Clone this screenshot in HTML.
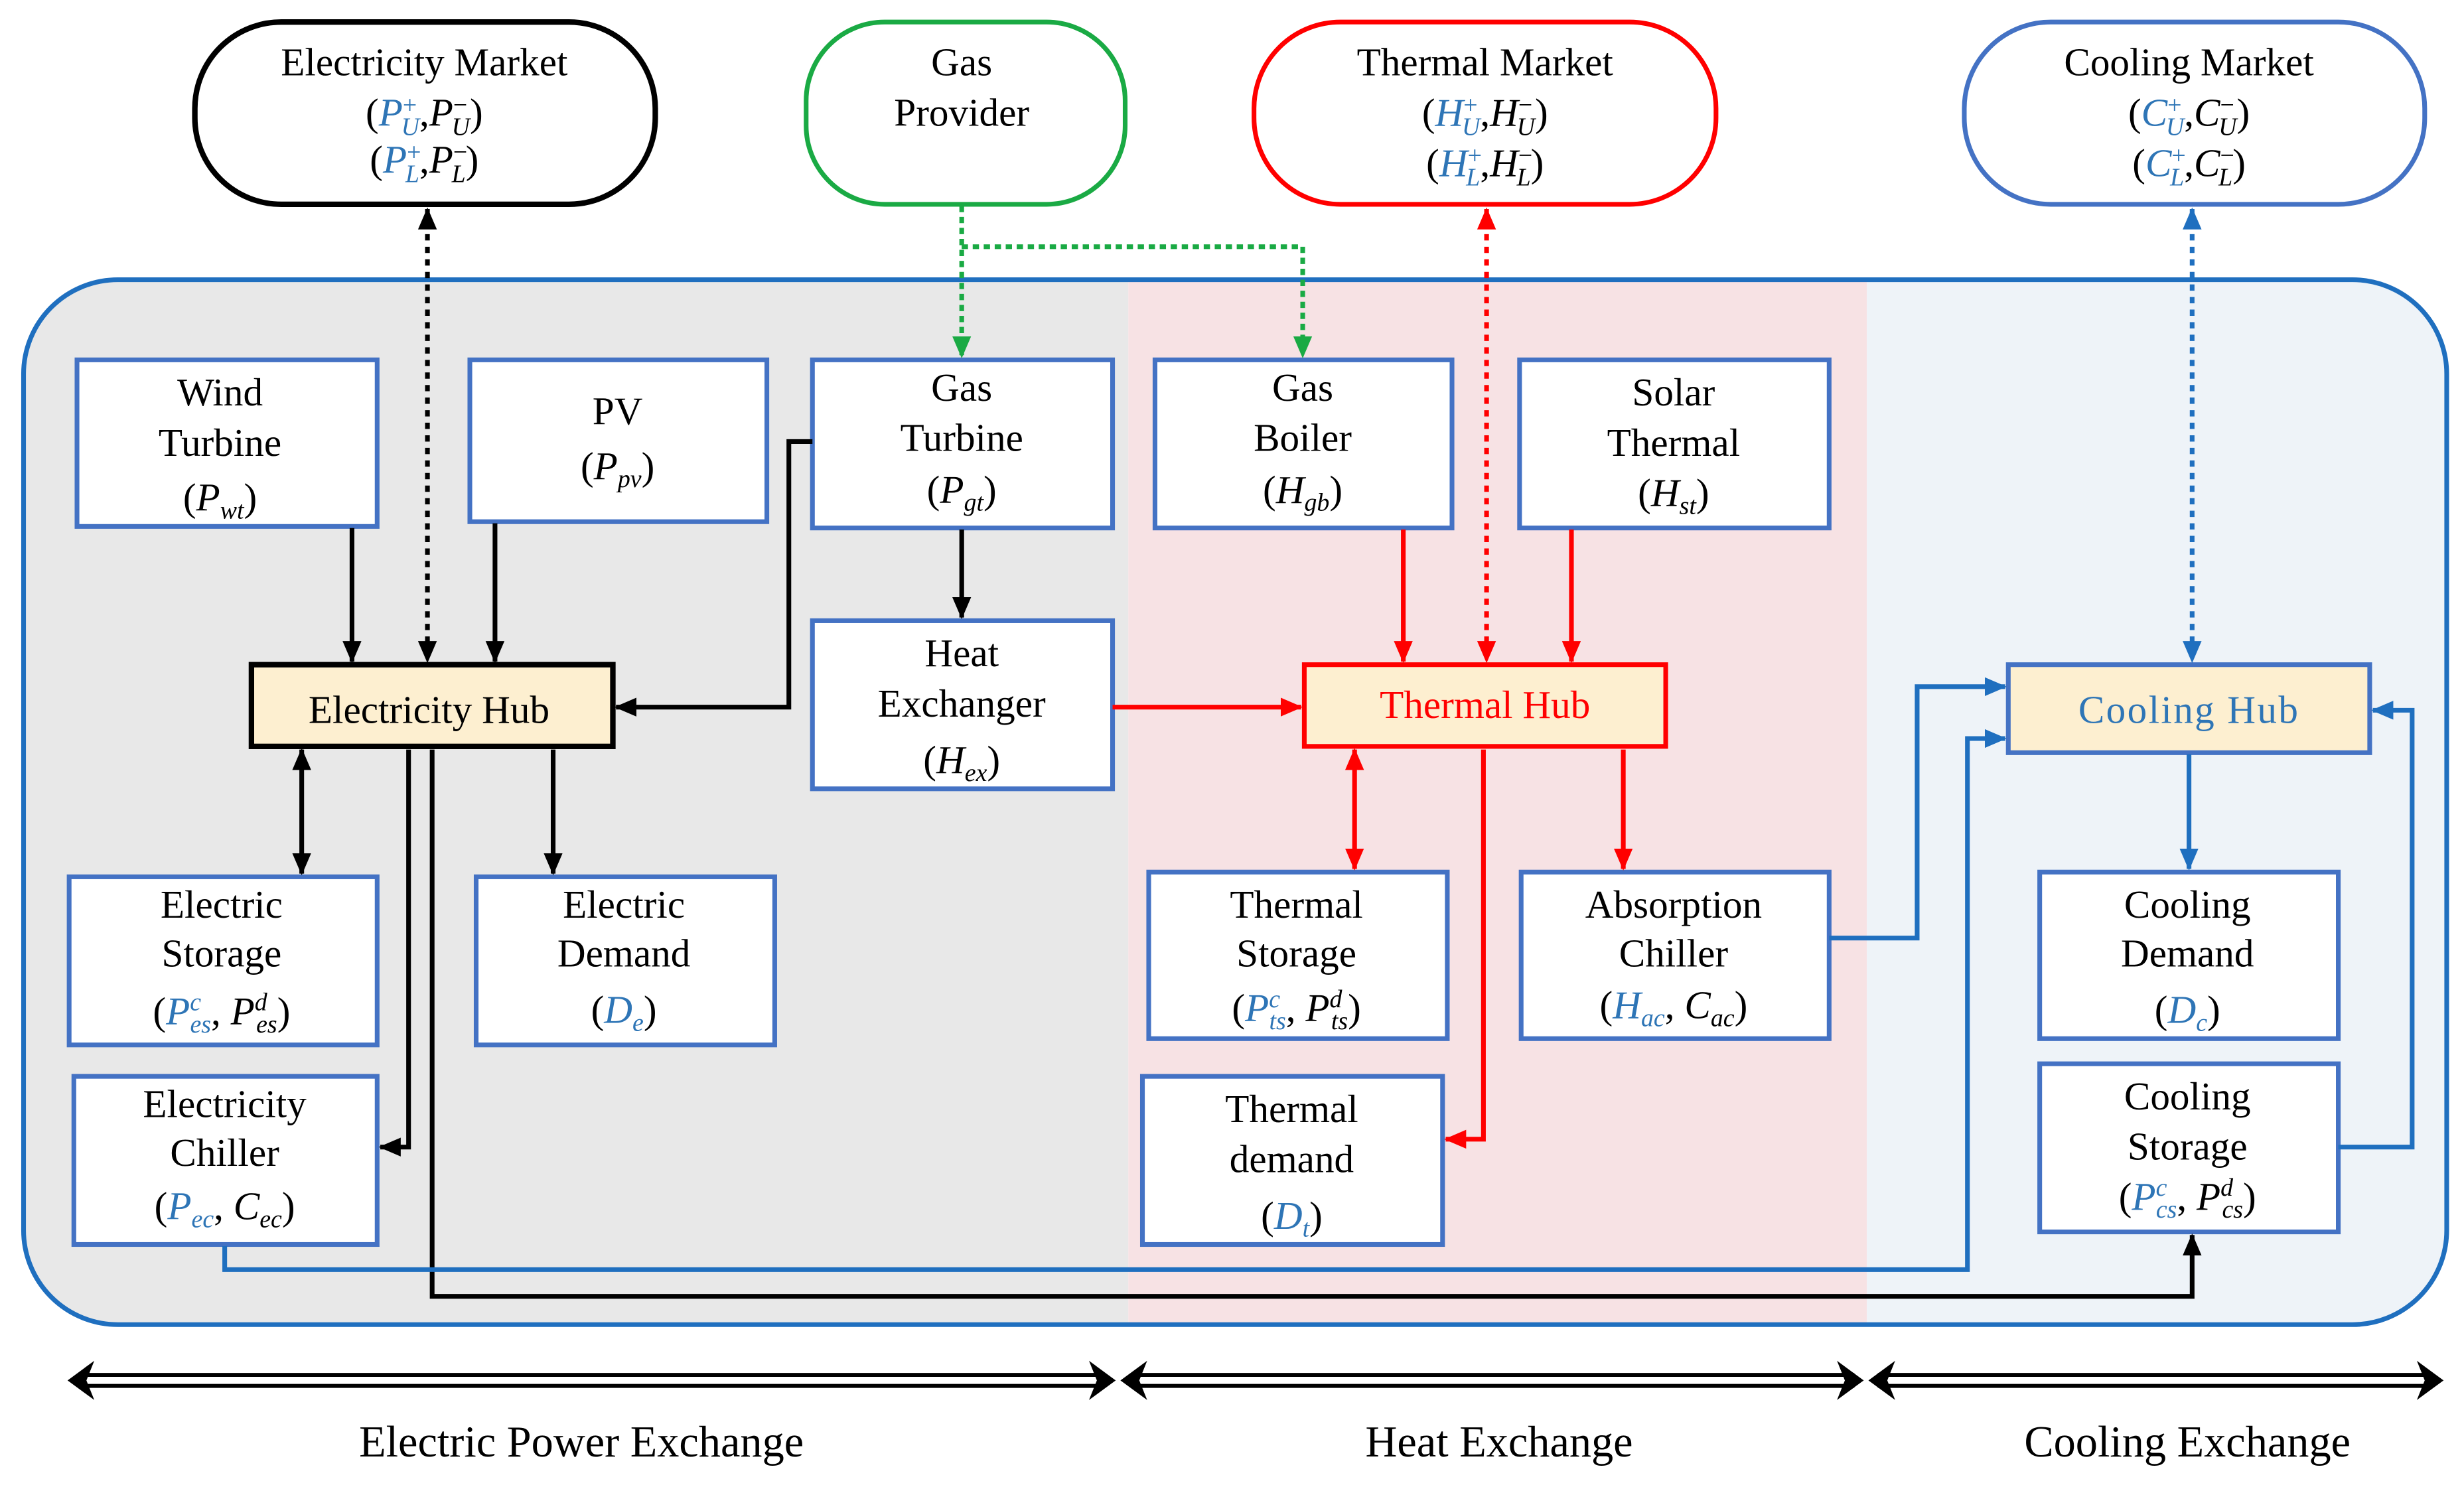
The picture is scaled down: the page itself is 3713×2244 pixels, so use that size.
<!DOCTYPE html>
<html><head><meta charset="utf-8"><style>
html,body{margin:0;padding:0;background:#fff}
svg{display:block}
text{font-family:"Liberation Serif",serif;font-size:25px;fill:#000;text-anchor:middle}
.b{fill:#2e75b6}
.i{font-style:italic}
.s{font-size:16px}
</style></head><body>
<svg width="3713" height="2244" viewBox="0 0 1568 947.6" xmlns="http://www.w3.org/2000/svg">
<defs>
<marker id="ak" markerWidth="14" markerHeight="12" refX="13" refY="6" orient="auto-start-reverse" markerUnits="userSpaceOnUse"><path d="M0,0 L14,6 L0,12 z" fill="#000"/></marker>
<marker id="ar" markerWidth="14" markerHeight="12" refX="13" refY="6" orient="auto-start-reverse" markerUnits="userSpaceOnUse"><path d="M0,0 L14,6 L0,12 z" fill="#f00"/></marker>
<marker id="ag" markerWidth="14" markerHeight="12" refX="13" refY="6" orient="auto-start-reverse" markerUnits="userSpaceOnUse"><path d="M0,0 L14,6 L0,12 z" fill="#1aaa44"/></marker>
<marker id="ab" markerWidth="14" markerHeight="12" refX="13" refY="6" orient="auto-start-reverse" markerUnits="userSpaceOnUse"><path d="M0,0 L14,6 L0,12 z" fill="#1f6fbf"/></marker>
<clipPath id="cp"><rect x="15" y="178" width="1542" height="665" rx="60"/></clipPath>
</defs>
<g clip-path="url(#cp)">
<rect x="15" y="178" width="703" height="665" fill="#e8e8e8"/>
<rect x="718" y="178" width="470" height="665" fill="#f7e2e4"/>
<rect x="1188" y="178" width="369" height="665" fill="#eef3f8"/>
</g>
<rect x="15" y="178" width="1542" height="665" rx="60" fill="none" stroke="#1f6fbf" stroke-width="3"/>

<rect x="124" y="14" width="293" height="116" rx="55" fill="#fff" stroke="#000" stroke-width="3.5"/>
<text x="270" y="48">Electricity Market</text>
<text x="270" y="80">(<tspan class="b i">P</tspan><tspan class="b s" dy="-8">+</tspan><tspan class="b s i" dy="14" dx="-10">U</tspan><tspan dy="-6">,</tspan><tspan class="i">P</tspan><tspan class="s" dy="-8">−</tspan><tspan class="s i" dy="14" dx="-10">U</tspan><tspan dy="-6">)</tspan></text>
<text x="270" y="110">(<tspan class="b i">P</tspan><tspan class="b s" dy="-8">+</tspan><tspan class="b s i" dy="14" dx="-10">L</tspan><tspan dy="-6">,</tspan><tspan class="i">P</tspan><tspan class="s" dy="-8">−</tspan><tspan class="s i" dy="14" dx="-10">L</tspan><tspan dy="-6">)</tspan></text>

<rect x="513" y="14" width="203" height="116" rx="50" fill="#fff" stroke="#1aaa44" stroke-width="3"/>
<text x="612" y="48">Gas</text><text x="612" y="80">Provider</text>

<rect x="798" y="14" width="294" height="116" rx="55" fill="#fff" stroke="#f00" stroke-width="3"/>
<text x="945" y="48">Thermal Market</text>
<text x="945" y="80">(<tspan class="b i">H</tspan><tspan class="b s" dy="-8">+</tspan><tspan class="b s i" dy="14" dx="-10">U</tspan><tspan dy="-6">,</tspan><tspan class="i">H</tspan><tspan class="s" dy="-8">−</tspan><tspan class="s i" dy="14" dx="-10">U</tspan><tspan dy="-6">)</tspan></text>
<text x="945" y="112">(<tspan class="b i">H</tspan><tspan class="b s" dy="-8">+</tspan><tspan class="b s i" dy="14" dx="-10">L</tspan><tspan dy="-6">,</tspan><tspan class="i">H</tspan><tspan class="s" dy="-8">−</tspan><tspan class="s i" dy="14" dx="-10">L</tspan><tspan dy="-6">)</tspan></text>

<rect x="1250" y="14" width="293" height="116" rx="55" fill="#fff" stroke="#4472c4" stroke-width="3"/>
<text x="1393" y="48">Cooling Market</text>
<text x="1393" y="80">(<tspan class="b i">C</tspan><tspan class="b s" dy="-8">+</tspan><tspan class="b s i" dy="14" dx="-10">U</tspan><tspan dy="-6">,</tspan><tspan class="i">C</tspan><tspan class="s" dy="-8">−</tspan><tspan class="s i" dy="14" dx="-10">U</tspan><tspan dy="-6">)</tspan></text>
<text x="1393" y="112">(<tspan class="b i">C</tspan><tspan class="b s" dy="-8">+</tspan><tspan class="b s i" dy="14" dx="-10">L</tspan><tspan dy="-6">,</tspan><tspan class="i">C</tspan><tspan class="s" dy="-8">−</tspan><tspan class="s i" dy="14" dx="-10">L</tspan><tspan dy="-6">)</tspan></text>

<g fill="#fff" stroke="#4472c4" stroke-width="3">
<rect x="49" y="229" width="191" height="106"/>
<rect x="299" y="229" width="189" height="103"/>
<rect x="517" y="229" width="191" height="107"/>
<rect x="735" y="229" width="189" height="107"/>
<rect x="967" y="229" width="197" height="107"/>
<rect x="517" y="395" width="191" height="107"/>
<rect x="44" y="558" width="196" height="107"/>
<rect x="303" y="558" width="190" height="107"/>
<rect x="47" y="685" width="193" height="107"/>
<rect x="731" y="555" width="190" height="106"/>
<rect x="968" y="555" width="196" height="106"/>
<rect x="727" y="685" width="191" height="107"/>
<rect x="1298" y="555" width="190" height="106"/>
<rect x="1298" y="677" width="190" height="107"/>
</g>
<rect x="160" y="423" width="230" height="52" fill="#fdefd0" stroke="#000" stroke-width="3.5"/>
<rect x="830" y="423" width="230" height="52" fill="#fdefd0" stroke="#f00" stroke-width="3"/>
<rect x="1278" y="423" width="230" height="56" fill="#fdefd0" stroke="#4472c4" stroke-width="3"/>
<text x="273" y="460">Electricity Hub</text>
<text x="945" y="457" style="fill:#f00">Thermal Hub</text>
<text x="1393" y="460" style="fill:#2e75b6;letter-spacing:1px">Cooling  Hub</text>

<text x="140" y="258">Wind</text><text x="140" y="290">Turbine</text>
<text x="140" y="325">(<tspan class="i">P</tspan><tspan class="s i" dy="5">wt</tspan><tspan dy="-5">)</tspan></text>
<text x="393" y="270">PV</text>
<text x="393" y="305">(<tspan class="i">P</tspan><tspan class="s i" dy="5">pv</tspan><tspan dy="-5">)</tspan></text>
<text x="612" y="255">Gas</text><text x="612" y="287">Turbine</text>
<text x="612" y="320">(<tspan class="i">P</tspan><tspan class="s i" dy="5">gt</tspan><tspan dy="-5">)</tspan></text>
<text x="829" y="255">Gas</text><text x="829" y="287">Boiler</text>
<text x="829" y="320">(<tspan class="i">H</tspan><tspan class="s i" dy="5">gb</tspan><tspan dy="-5">)</tspan></text>
<text x="1065" y="258">Solar</text><text x="1065" y="290">Thermal</text>
<text x="1065" y="322">(<tspan class="i">H</tspan><tspan class="s i" dy="5">st</tspan><tspan dy="-5">)</tspan></text>
<text x="612" y="424">Heat</text><text x="612" y="456">Exchanger</text>
<text x="612" y="492">(<tspan class="i">H</tspan><tspan class="s i" dy="5">ex</tspan><tspan dy="-5">)</tspan></text>
<text x="141" y="584">Electric</text><text x="141" y="615">Storage</text>
<text x="141" y="652">(<tspan class="b i">P</tspan><tspan class="b s i" dy="-9">c</tspan><tspan class="b s i" dy="14" dx="-7">es</tspan><tspan dy="-5">, </tspan><tspan class="i">P</tspan><tspan class="s i" dy="-9">d</tspan><tspan class="s i" dy="14" dx="-7">es</tspan><tspan dy="-5">)</tspan></text>
<text x="397" y="584">Electric</text><text x="397" y="615">Demand</text>
<text x="397" y="651">(<tspan class="b i">D</tspan><tspan class="b s i" dy="5">e</tspan><tspan dy="-5">)</tspan></text>
<text x="143" y="711">Electricity</text><text x="143" y="742">Chiller</text>
<text x="143" y="776">(<tspan class="b i">P</tspan><tspan class="b s i" dy="5">ec</tspan><tspan dy="-5">, </tspan><tspan class="i">C</tspan><tspan class="s i" dy="5">ec</tspan><tspan dy="-5">)</tspan></text>
<text x="825" y="584">Thermal</text><text x="825" y="615">Storage</text>
<text x="825" y="650">(<tspan class="b i">P</tspan><tspan class="b s i" dy="-9">c</tspan><tspan class="b s i" dy="14" dx="-7">ts</tspan><tspan dy="-5">, </tspan><tspan class="i">P</tspan><tspan class="s i" dy="-9">d</tspan><tspan class="s i" dy="14" dx="-7">ts</tspan><tspan dy="-5">)</tspan></text>
<text x="1065" y="584">Absorption</text><text x="1065" y="615">Chiller</text>
<text x="1065" y="648">(<tspan class="b i">H</tspan><tspan class="b s i" dy="5">ac</tspan><tspan dy="-5">, </tspan><tspan class="i">C</tspan><tspan class="s i" dy="5">ac</tspan><tspan dy="-5">)</tspan></text>
<text x="822" y="714">Thermal</text><text x="822" y="746">demand</text>
<text x="822" y="782">(<tspan class="b i">D</tspan><tspan class="b s i" dy="5">t</tspan><tspan dy="-5">)</tspan></text>
<text x="1392" y="584">Cooling</text><text x="1392" y="615">Demand</text>
<text x="1392" y="651">(<tspan class="b i">D</tspan><tspan class="b s i" dy="5">c</tspan><tspan dy="-5">)</tspan></text>
<text x="1392" y="706">Cooling</text><text x="1392" y="738">Storage</text>
<text x="1392" y="770">(<tspan class="b i">P</tspan><tspan class="b s i" dy="-9">c</tspan><tspan class="b s i" dy="14" dx="-7">cs</tspan><tspan dy="-5">, </tspan><tspan class="i">P</tspan><tspan class="s i" dy="-9">d</tspan><tspan class="s i" dy="14" dx="-7">cs</tspan><tspan dy="-5">)</tspan></text>

<g fill="none" stroke="#000" stroke-width="3">
<line x1="224" y1="336" x2="224" y2="421" marker-end="url(#ak)"/>
<line x1="315" y1="333" x2="315" y2="421" marker-end="url(#ak)"/>
<line x1="272" y1="133" x2="272" y2="421" stroke-dasharray="4,4" marker-start="url(#ak)" marker-end="url(#ak)"/>
<polyline points="517,281 502,281 502,450 392,450" marker-end="url(#ak)"/>
<line x1="612" y1="337" x2="612" y2="393" marker-end="url(#ak)"/>
<line x1="192" y1="477" x2="192" y2="556" marker-start="url(#ak)" marker-end="url(#ak)"/>
<line x1="352" y1="477" x2="352" y2="556" marker-end="url(#ak)"/>
<polyline points="260,477 260,730 242,730" marker-end="url(#ak)"/>
<polyline points="275,477 275,825 1395,825 1395,786" marker-end="url(#ak)"/>
</g>
<g fill="none" stroke="#1aaa44" stroke-width="3" stroke-dasharray="4,3">
<line x1="612" y1="131" x2="612" y2="227" marker-end="url(#ag)"/>
<polyline points="612,157 829,157 829,227" marker-end="url(#ag)"/>
</g>
<g fill="none" stroke="#f00" stroke-width="3">
<line x1="708" y1="450" x2="828" y2="450" marker-end="url(#ar)"/>
<line x1="893" y1="337" x2="893" y2="421" marker-end="url(#ar)"/>
<line x1="1000" y1="337" x2="1000" y2="421" marker-end="url(#ar)"/>
<line x1="946" y1="133" x2="946" y2="421" stroke-dasharray="4,4" marker-start="url(#ar)" marker-end="url(#ar)"/>
<line x1="862" y1="477" x2="862" y2="553" marker-start="url(#ar)" marker-end="url(#ar)"/>
<line x1="1033" y1="477" x2="1033" y2="553" marker-end="url(#ar)"/>
<polyline points="944,477 944,725 920,725" marker-end="url(#ar)"/>
</g>
<g fill="none" stroke="#1f6fbf" stroke-width="3">
<polyline points="143,793 143,808 1252,808 1252,470 1276,470" marker-end="url(#ab)"/>
<polyline points="1164,597 1220,597 1220,437 1276,437" marker-end="url(#ab)"/>
<line x1="1395" y1="133" x2="1395" y2="421" stroke-dasharray="4,4" marker-start="url(#ab)" marker-end="url(#ab)"/>
<line x1="1393" y1="480" x2="1393" y2="553" marker-end="url(#ab)"/>
<polyline points="1488,730 1535,730 1535,452 1510,452" marker-end="url(#ab)"/>
</g>

<g stroke="#000" stroke-width="2.5" fill="none">
<line x1="50" y1="875" x2="703" y2="875"/><line x1="50" y1="882" x2="703" y2="882"/>
<line x1="720" y1="875" x2="1180" y2="875"/><line x1="720" y1="882" x2="1180" y2="882"/>
<line x1="1195" y1="875" x2="1548" y2="875"/><line x1="1195" y1="882" x2="1548" y2="882"/>
</g>
<g fill="#000">
<path d="M43,878.5 L60,866 L55,878.5 L60,891 z"/><path d="M710,878.5 L693,866 L698,878.5 L693,891 z"/>
<path d="M713,878.5 L730,866 L725,878.5 L730,891 z"/><path d="M1186,878.5 L1169,866 L1174,878.5 L1169,891 z"/>
<path d="M1189,878.5 L1206,866 L1201,878.5 L1206,891 z"/><path d="M1555,878.5 L1538,866 L1543,878.5 L1538,891 z"/>
</g>
<text x="370" y="927" style="font-size:28px">Electric Power Exchange</text>
<text x="954" y="927" style="font-size:28px">Heat Exchange</text>
<text x="1392" y="927" style="font-size:28px">Cooling Exchange</text>
</svg>
</body></html>
